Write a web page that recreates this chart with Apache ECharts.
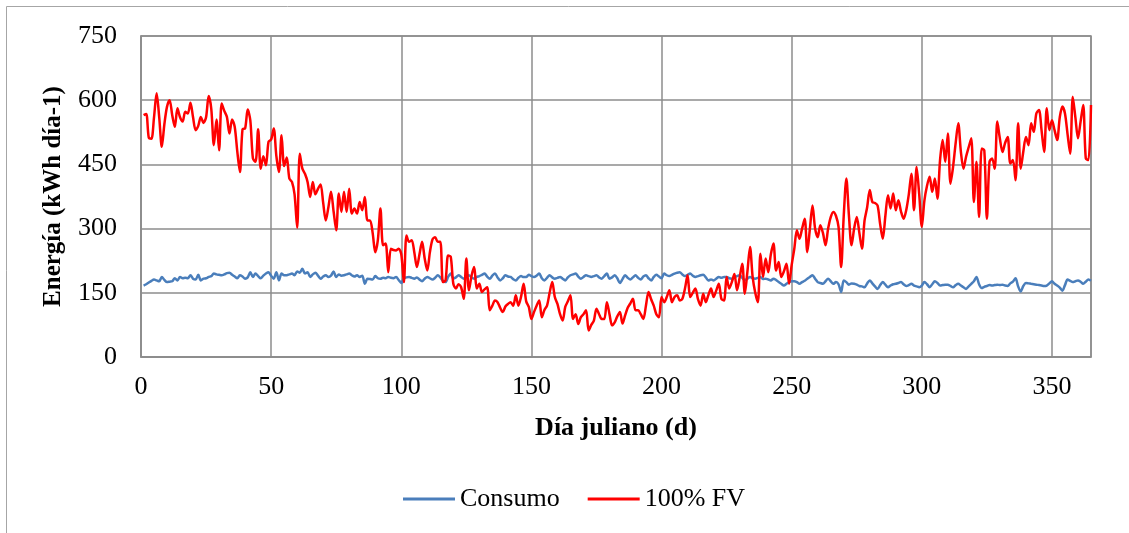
<!DOCTYPE html>
<html>
<head>
<meta charset="utf-8">
<script src="https://cdn.jsdelivr.net/npm/echarts@6.0.0/dist/echarts.min.js"></script>
<style>
  html, body { margin: 0; padding: 0; background: #fff; }
  #chart { width: 1129px; height: 533px; }
</style>
</head>
<body>
<div id="chart"></div>
<script>
// Consumo diario (kWh día-1), día juliano 1..365
const consumo = [
  167, 170, 174, 178, 181, 179, 177, 187, 180, 175,
  176, 177, 184, 179, 187, 184, 185, 184, 191, 183,
  181, 192, 179, 183, 184, 187, 189, 195, 193, 192,
  191, 193, 196, 197, 192, 188, 184, 191, 188, 183,
  186, 198, 187, 195, 189, 184, 190, 195, 198, 190,
  183, 198, 179, 195, 191, 191, 193, 195, 191, 200,
  197, 206, 195, 198, 187, 193, 197, 190, 183, 188,
  191, 187, 190, 200, 187, 193, 190, 191, 193, 195,
  191, 188, 191, 187, 190, 171, 183, 182, 181, 189,
  184, 183, 185, 184, 187, 185, 184, 187, 180, 173,
  184, 186, 187, 185, 183, 186, 181, 177, 183, 187,
  184, 181, 185, 191, 186, 178, 175, 187, 195, 183,
  186, 191, 187, 183, 188, 191, 186, 183, 187, 189,
  192, 195, 188, 183, 190, 195, 186, 179, 184, 191,
  188, 187, 182, 179, 185, 189, 187, 187, 192, 189,
  187, 190, 195, 184, 179, 185, 191, 186, 183, 185,
  187, 183, 179, 186, 191, 193, 195, 188, 183, 187,
  191, 189, 187, 189, 191, 186, 183, 189, 195, 183,
  186, 191, 184, 173, 182, 191, 185, 181, 186, 191,
  185, 181, 188, 191, 184, 179, 187, 192, 188, 184,
  195, 191, 189, 192, 195, 197, 198, 193, 189, 192,
  195, 190, 187, 189, 191, 192, 186, 179, 181, 179,
  183, 187, 185, 187, 187, 184, 183, 186, 189, 191,
  185, 179, 183, 187, 184, 183, 185, 187, 182, 183,
  181, 179, 183, 180, 175, 171, 167, 171, 175, 177,
  177, 175, 171, 175, 178, 183, 187, 191, 183, 175,
  173, 171, 177, 183, 177, 171, 175, 170, 152, 179,
  175, 169, 172, 171, 169, 166, 165, 163, 172, 179,
  172, 165, 159, 168, 175, 169, 163, 167, 170, 171,
  173, 175, 170, 166, 168, 171, 167, 165, 163, 167,
  175, 170, 163, 170, 177, 173, 167, 168, 169, 169,
  166, 163, 168, 171, 167, 163, 159, 165, 171, 177,
  187, 170, 161, 164, 166, 168, 167, 168, 169, 168,
  169, 167, 166, 172, 176, 184, 165, 153, 166, 173,
  172, 171, 170, 169, 168, 167, 166, 167, 172, 177,
  171, 167, 162, 155, 168, 181, 178, 175, 177, 179,
  176, 171, 176, 181, 178
];

// Generación 100% FV (kWh día-1), día juliano 1..365
const fv100 = [
  565, 568, 512, 510, 560, 616, 560, 491, 545, 585,
  600, 565, 538, 581, 560, 550, 573, 569, 594, 560,
  530, 540, 561, 547, 560, 610, 580, 495, 555, 483,
  592, 575, 561, 522, 555, 538, 480, 432, 532, 534,
  578, 553, 464, 456, 532, 440, 469, 448, 503, 508,
  534, 470, 432, 518, 446, 466, 417, 409, 380, 302,
  475, 440, 428, 409, 374, 409, 380, 393, 403, 360,
  319, 350, 386, 340, 296, 382, 339, 386, 339, 393,
  335, 347, 335, 362, 343, 374, 319, 319, 290, 245,
  273, 347, 261, 265, 198, 253, 250, 249, 253, 240,
  175, 284, 269, 273, 245, 210, 240, 269, 230, 202,
  245, 275, 280, 269, 269, 175, 179, 237, 234, 171,
  160, 170, 163, 136, 230, 156, 190, 210, 160, 171,
  152, 158, 163, 109, 120, 132, 128, 115, 105, 118,
  124, 128, 120, 144, 120, 140, 171, 130, 117, 89,
  105, 120, 132, 93, 110, 120, 150, 175, 140, 124,
  100, 85, 117, 130, 144, 89, 100, 77, 93, 100,
  109, 62, 75, 85, 113, 100, 89, 89, 128, 100,
  74, 81, 95, 105, 78, 97, 115, 125, 136, 109,
  109, 100, 89, 120, 152, 135, 120, 100, 93, 140,
  128, 140, 156, 128, 140, 144, 132, 136, 160, 191,
  140, 150, 160, 135, 120, 148, 128, 145, 160, 140,
  155, 171, 136, 132, 187, 160, 175, 194, 156, 185,
  218, 148, 200, 257, 187, 150, 128, 241, 187, 230,
  198, 240, 265, 202, 222, 187, 200, 218, 171, 215,
  253, 296, 276, 300, 323, 245, 300, 354, 300, 280,
  308, 290, 261, 300, 327, 339, 330, 304, 210, 330,
  417, 330, 261, 300, 327, 290, 253, 319, 350, 390,
  362, 360, 354, 310, 276, 330, 378, 347, 382, 343,
  366, 340, 323, 343, 380, 428, 343, 444, 380, 304,
  366, 400, 421, 386, 417, 370, 460, 507, 456, 522,
  405, 444, 500, 546, 480, 440, 468, 490, 511, 362,
  456, 327, 487, 483, 323, 456, 464, 440, 550, 510,
  479, 500, 514, 452, 460, 413, 546, 440, 480, 514,
  495, 546, 526, 569, 577, 530, 479, 581, 530, 553,
  530, 507, 560, 585, 569, 520, 475, 608, 560, 511,
  550, 589, 464, 460, 589
];

const seriesNames = ['Consumo', '100% FV'];
const xTitle = 'Día juliano (d)';
const yTitle = 'Energía (kWh día-1)';

const font = '"Liberation Serif", "Times New Roman", serif';
const gridColor = '#8c8c8c';

const toPoints = arr => arr.map((v, i) => [i + 1, v]);

const chart = echarts.init(document.getElementById('chart'));

chart.setOption({
  animation: false,
  backgroundColor: '#fff',
  textStyle: { fontFamily: font, color: '#000' },
  graphic: [{
    type: 'rect',
    shape: { x: 6.5, y: 6.5, width: 1140, height: 560 },
    style: { fill: 'none', stroke: '#a6a6a6', lineWidth: 1 },
    silent: true
  }],
  grid: {
    left: 141,
    right: 38,
    top: 36,
    bottom: 176,
    show: true,
    borderColor: gridColor,
    borderWidth: 1.5
  },
  legend: {
    left: 398,
    top: 481,
    itemWidth: 52,
    itemHeight: 3,
    itemGap: 28,
    textStyle: { fontFamily: font, fontSize: 26, color: '#000' },
    data: seriesNames.map(n => ({ name: n, icon: 'rect' }))
  },
  xAxis: {
    type: 'value',
    min: 0,
    max: 365,
    interval: 50,
    name: xTitle,
    nameLocation: 'middle',
    nameGap: 58,
    nameTextStyle: { fontFamily: font, fontSize: 26, fontWeight: 'bold', color: '#000' },
    axisLine: { show: true, lineStyle: { color: gridColor, width: 1.5 } },
    axisTick: { show: false },
    axisLabel: { fontFamily: font, fontSize: 26, color: '#000', margin: 17, showMaxLabel: false },
    splitLine: { show: true, lineStyle: { color: gridColor, width: 1.5 } }
  },
  yAxis: {
    type: 'value',
    min: 0,
    max: 750,
    interval: 150,
    name: yTitle,
    nameLocation: 'middle',
    nameGap: 75,
    nameTextStyle: { fontFamily: font, fontSize: 25, fontWeight: 'bold', color: '#000' },
    axisLine: { show: true, lineStyle: { color: gridColor, width: 1.5 } },
    axisTick: { show: false },
    axisLabel: { fontFamily: font, fontSize: 26, color: '#000', margin: 24 },
    splitLine: { show: true, lineStyle: { color: gridColor, width: 1.5 } }
  },
  series: [
    {
      name: seriesNames[0],
      type: 'line',
      data: toPoints(consumo),
      symbol: 'none',
      smooth: 0.3,
      lineStyle: { color: '#4a7ebb', width: 2.5 },
      itemStyle: { color: '#4a7ebb' }
    },
    {
      name: seriesNames[1],
      type: 'line',
      data: toPoints(fv100),
      symbol: 'none',
      smooth: 0.3,
      lineStyle: { color: '#ff0000', width: 2.5 },
      itemStyle: { color: '#ff0000' }
    }
  ]
});
</script>
</body>
</html>
